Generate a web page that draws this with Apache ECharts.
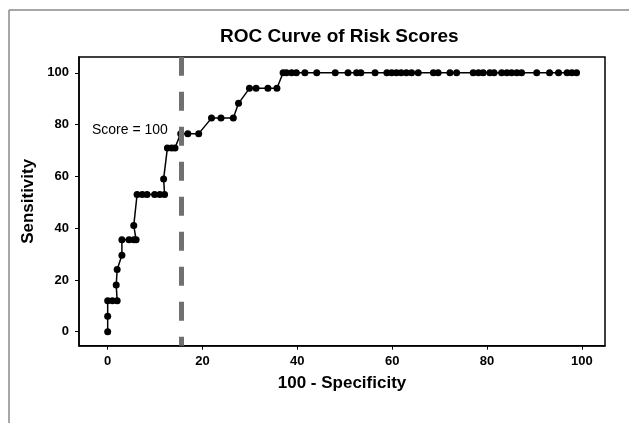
<!DOCTYPE html>
<html>
<head>
<meta charset="utf-8">
<script src="https://cdn.jsdelivr.net/npm/echarts@6/dist/echarts.min.js"></script>
<style>
html,body{margin:0;padding:0;background:#fff;}
#chart{width:629px;height:423px;}
</style>
</head>
<body>
<div id="chart"></div>
<script>
// 100 - Specificity values (x) and Sensitivity values (y)
const specComplement = [
  0, 0, 0, 1, 2, 1.8, 2, 3, 3, 4.5, 5.5, 6, 5.5, 6.2, 7.3, 8.3, 9.9, 11, 12,
  11.8, 12.6, 13.5, 14.2, 15.4, 16.9, 19.2, 21.9, 23.9, 26.5, 27.6, 29.9, 31.3,
  33.8, 35.7, 37.0, 37.7, 38.8, 39.8, 41.6, 44.1, 48.0, 50.7, 52.5, 53.4, 56.4,
  58.9, 59.9, 60.9, 61.9, 63.0, 64.1, 65.5, 68.7, 69.7, 72.2, 73.6, 77.1, 78.2,
  79.2, 80.6, 81.5, 83.1, 84.2, 85.2, 86.3, 87.3, 90.5, 93.2, 95.1, 96.9, 97.9, 98.9
];
const sensitivity = [
  0, 6, 12, 12, 12, 18, 24, 29.5, 35.5, 35.5, 35.5, 35.5, 41, 53, 53, 53, 53, 53, 53,
  59, 71, 71, 71, 76.5, 76.5, 76.5, 82.5, 82.5, 82.5, 88.2, 94, 94,
  94, 94, 100, 100, 100, 100, 100, 100, 100, 100, 100, 100, 100,
  100, 100, 100, 100, 100, 100, 100, 100, 100, 100, 100, 100, 100,
  100, 100, 100, 100, 100, 100, 100, 100, 100, 100, 100, 100, 100, 100
];
const tickValues = [0, 20, 40, 60, 80, 100];
const cutoffX = 15.5;
const cutoffLabel = 'Score = 100';
const titleText = 'ROC Curve of Risk Scores';
const xName = '100 - Specificity';
const yName = 'Sensitivity';

const FONT = '"Liberation Sans", Arial, Helvetica, sans-serif';
const chart = echarts.init(document.getElementById('chart'), null, {renderer: 'canvas'});
const points = specComplement.map((x, i) => [x, sensitivity[i]]);

chart.setOption({
  animation: false,
  backgroundColor: '#fff',
  title: {
    text: titleText,
    left: 220, top: 27, padding: 0,
    textStyle: {fontFamily: FONT, fontSize: 19, fontWeight: 'bold', color: '#000'}
  },
  grid: {
    left: 79, right: 24, top: 57, bottom: 77.3,
    show: true, borderColor: '#000', borderWidth: 1.5, backgroundColor: 'transparent'
  },
  xAxis: {
    type: 'value', min: -6.05, max: 104.9,
    name: xName, nameLocation: 'middle', nameGap: 29,
    nameTextStyle: {fontFamily: FONT, fontSize: 17, fontWeight: 'bold', color: '#000'},
    splitLine: {show: false},
    axisLine: {show: true, onZero: false, lineStyle: {color: '#000', width: 1.5}},
    axisTick: {show: true, length: 4, customValues: tickValues, lineStyle: {color: '#000'}},
    axisLabel: {customValues: tickValues, margin: 9, fontFamily: FONT, fontSize: 13, fontWeight: 'bold', color: '#000'}
  },
  yAxis: {
    type: 'value', min: -5.4, max: 106.1,
    name: yName, nameLocation: 'middle', nameGap: 41, nameRotate: 90,
    nameTextStyle: {fontFamily: FONT, fontSize: 17, fontWeight: 'bold', color: '#000'},
    splitLine: {show: false},
    axisLine: {show: true, onZero: false, lineStyle: {color: '#000', width: 1.5}},
    axisTick: {show: true, length: 4, customValues: tickValues, lineStyle: {color: '#000'}},
    axisLabel: {customValues: tickValues, margin: 10, fontFamily: FONT, fontSize: 13, fontWeight: 'bold', color: '#000'}
  },
  series: [
    {
      type: 'line',
      data: points,
      showSymbol: true, showAllSymbol: true,
      symbol: 'circle', symbolSize: 7,
      itemStyle: {color: '#000'},
      lineStyle: {color: '#000', width: 1.5},
      z: 2
    },
    {
      type: 'line',
      data: [],
      z: 5,
      markLine: {
        silent: true, symbol: 'none',
        label: {show: false},
        lineStyle: {color: '#707070', width: 5, type: [19, 16], dashOffset: 10},
        data: [{xAxis: cutoffX}]
      }
    }
  ],
  graphic: [
    {type: 'line', shape: {x1: 9, y1: 10, x2: 629, y2: 10}, style: {stroke: '#8a8a8a', lineWidth: 1.5}},
    {type: 'line', shape: {x1: 9, y1: 10, x2: 9, y2: 423}, style: {stroke: '#8a8a8a', lineWidth: 1.5}},
    {type: 'text', left: 92, top: 123, z: 10,
     style: {text: cutoffLabel, fontFamily: FONT, fontSize: 14, fill: '#000'}}
  ]
});
</script>
</body>
</html>
